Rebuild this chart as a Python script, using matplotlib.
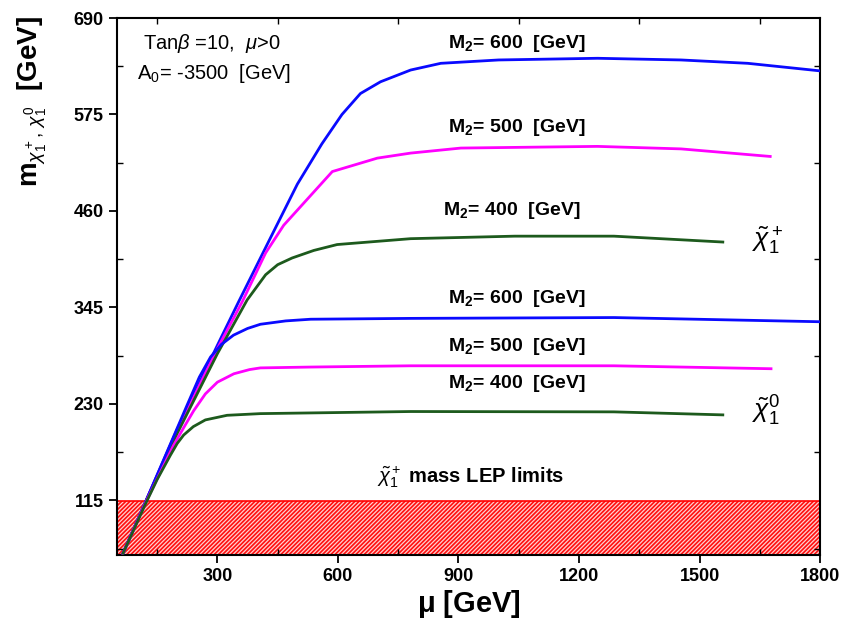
import numpy as np
import matplotlib
matplotlib.use("Agg")
import matplotlib.pyplot as plt
from matplotlib.ticker import MultipleLocator

plt.rcParams['font.family'] = ['Liberation Sans', 'DejaVu Sans']
plt.rcParams['mathtext.fontset'] = 'custom'
plt.rcParams['mathtext.rm'] = 'Liberation Sans'
plt.rcParams['mathtext.it'] = 'Liberation Sans:italic'
plt.rcParams['mathtext.bf'] = 'Liberation Sans:bold'
plt.rcParams['hatch.linewidth'] = 0.9

# chargino curves (upper set)
mu_ch600 = [65, 120, 200, 300, 353, 430, 499, 560, 610, 656, 706, 781, 856, 1000, 1246, 1454, 1620, 1800]
m_ch600 = [52, 112, 200, 300, 352, 426, 492, 540, 575, 600, 614, 628, 636, 640, 642, 640, 636, 627]
mu_ch500 = [65, 120, 200, 300, 362, 420, 465, 586, 698, 781, 906, 1246, 1454, 1676]
m_ch500 = [52, 112, 198, 296, 352, 410, 443, 507, 523, 529, 535, 537, 534, 525]
mu_ch400 = [65, 120, 200, 300, 374, 420, 450, 486, 540, 598, 781, 1040, 1287, 1558]
m_ch400 = [52, 112, 195, 290, 354, 384, 396, 404, 413, 420, 427, 430, 430, 423]

# neutralino curves (lower set)
mu_n600 = [65, 120, 224, 255, 283, 310, 340, 375, 407, 470, 532, 781, 1287, 1800]
m_n600 = [52, 112, 228, 262, 286, 301, 312, 320, 325, 329, 331, 332, 333, 328]
mu_n500 = [65, 120, 190, 220, 241, 270, 300, 341, 380, 407, 532, 781, 1287, 1678]
m_n500 = [52, 111, 180, 205, 222, 242, 256, 266, 271, 273, 274, 275.5, 275.5, 272]
mu_n400 = [65, 120, 150, 183, 200, 216, 240, 270, 324, 407, 781, 1287, 1558]
m_n400 = [52, 110, 140, 169, 183, 193, 203, 211, 216.5, 218.5, 221, 220.6, 217]

lep_limit = 114
xticks = [300, 600, 900, 1200, 1500, 1800]
yticks = [115, 230, 345, 460, 575, 690]

c_blue = '#0a0aff'
c_mag = '#ff00ff'
c_green = '#1d5a1d'

fig = plt.figure(figsize=(8.44, 6.34), dpi=100)
ax = fig.add_axes([0.1386, 0.1246, 0.833, 0.847])

# LEP exclusion band
ax.axhspan(50, lep_limit, facecolor='#ff1010', edgecolor='#ffd0d0', hatch='////////', linewidth=0, zorder=1)
ax.axhspan(50, lep_limit, fill=False, edgecolor='red', linewidth=1.2, zorder=1)

lw = 2.0
ax.plot(mu_ch600, m_ch600, color=c_blue, lw=lw, zorder=3)
ax.plot(mu_ch500, m_ch500, color=c_mag, lw=lw, zorder=3)
ax.plot(mu_ch400, m_ch400, color=c_green, lw=lw, zorder=3)
ax.plot(mu_n600, m_n600, color=c_blue, lw=lw, zorder=3)
ax.plot(mu_n500, m_n500, color=c_mag, lw=lw, zorder=3)
ax.plot(mu_n400, m_n400, color=c_green, lw=lw, zorder=3)

ax.set_xlim(50, 1800)
ax.set_ylim(50, 690)
ax.set_xticks(xticks)
ax.set_yticks(yticks)
ax.xaxis.set_minor_locator(MultipleLocator(150))
ax.yaxis.set_minor_locator(MultipleLocator(57.5))
ax.tick_params(which='major', direction='out', length=6, width=1.3, labelsize=13)
ax.tick_params(which='minor', direction='in', length=4, width=1.0, top=True, right=True)
for lab in ax.get_xticklabels() + ax.get_yticklabels():
    lab.set_fontweight('bold')
for s in ax.spines.values():
    s.set_linewidth(1.5)

ax.set_xlabel(r'$\mathbf{\mu}$ [GeV]', fontsize=21, fontweight='bold', labelpad=2)
# y label sits high on the axis in the original
fig.text(0.038, 0.975, r'm$_{\chi^+_1,\,\chi^0_1}$  [GeV]', fontsize=20, fontweight='bold',
         rotation=90, ha='center', va='top')

tb = dict(fontsize=14, fontweight='bold', ha='center', va='center')
ax.text(1045, 660, r'M$_\mathbf{2}$= 600  [GeV]', **tb)
ax.text(1045, 559, r'M$_\mathbf{2}$= 500  [GeV]', **tb)
ax.text(1033, 460, r'M$_\mathbf{2}$= 400  [GeV]', **tb)
ax.text(1045, 356, r'M$_\mathbf{2}$= 600  [GeV]', **tb)
ax.text(1045, 298, r'M$_\mathbf{2}$= 500  [GeV]', **tb)
ax.text(1045, 254, r'M$_\mathbf{2}$= 400  [GeV]', **tb)

ax.text(115, 660, r'Tan$\beta$ =10,  $\mu$>0', fontsize=14.5, ha='left', va='center')
ax.text(100, 624, r'A$_0$= -3500  [GeV]', fontsize=14.5, ha='left', va='center')

ax.text(1630, 425, r'$\tilde{\chi}_1^+$', fontsize=19, ha='left', va='center')
ax.text(1630, 222, r'$\tilde{\chi}_1^0$', fontsize=19, ha='left', va='center')
ax.text(930, 143, r'$\tilde{\chi}_1^+$ mass LEP limits', fontsize=14.5, fontweight='bold',
        ha='center', va='center')

fig.savefig('out.png', dpi=100)
